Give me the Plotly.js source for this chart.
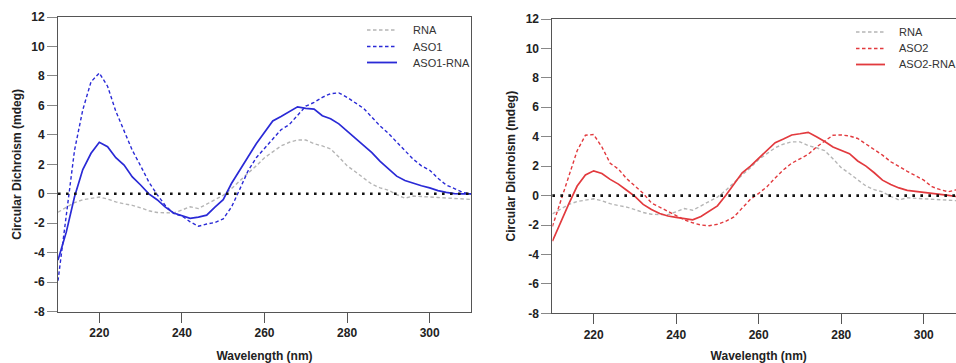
<!DOCTYPE html>
<html>
<head>
<meta charset="utf-8">
<script src="https://cdn.plot.ly/plotly-3.0.1.min.js"></script>
<style>
  html, body { margin: 0; padding: 0; background: #fff; overflow: hidden; }
  #cd { width: 966px; height: 363px; }
</style>
</head>
<body>
<div id="cd"></div>
<script>
// CD spectra, 210-310 nm, sampled every 2 nm
const wavelength = [210,212,214,216,218,220,222,224,226,228,230,232,234,236,238,240,242,244,246,248,
  250,252,254,256,258,260,262,264,266,268,270,272,274,276,278,280,282,284,286,288,
  290,292,294,296,298,300,302,304,306,308,310];

const rna = [-1.25,-0.95,-0.6,-0.4,-0.3,-0.22,-0.35,-0.55,-0.68,-0.78,-0.95,-1.15,-1.27,-1.3,-1.3,-1.1,-0.88,-1.0,-0.7,-0.45,
  -0.1,0.35,0.9,1.4,1.9,2.45,2.85,3.25,3.5,3.65,3.65,3.4,3.25,3.05,2.5,1.9,1.5,1.05,0.65,0.4,
  0.25,-0.05,-0.3,-0.15,-0.2,-0.22,-0.25,-0.28,-0.3,-0.32,-0.38];

const aso1 = [-5.9,-1.45,2.95,5.7,7.6,8.2,7.3,5.6,4.25,2.95,1.9,0.8,-0.05,-0.8,-1.33,-1.5,-1.9,-2.2,-2.05,-1.95,
  -1.7,-0.9,0.3,1.55,2.45,3.1,3.7,4.35,4.7,5.3,5.95,6.2,6.55,6.8,6.85,6.55,6.2,5.8,5.2,4.6,
  4.1,3.5,2.9,2.35,1.9,1.6,1.05,0.6,0.35,0.1,0.0];

const aso1Rna = [-4.5,-2.6,-0.2,1.65,2.75,3.5,3.2,2.45,1.95,1.15,0.6,0.0,-0.4,-0.9,-1.3,-1.5,-1.67,-1.58,-1.45,-0.9,
  -0.4,0.7,1.65,2.5,3.4,4.15,4.95,5.25,5.6,5.9,5.8,5.75,5.3,5.1,4.75,4.25,3.8,3.3,2.8,2.2,
  1.7,1.2,0.9,0.7,0.55,0.4,0.22,0.1,0.02,0.0,0.0];

const aso2 = [-2.1,-0.35,1.45,3.05,4.1,4.15,3.3,2.2,1.8,1.15,0.65,0.15,-0.5,-0.8,-1.05,-1.35,-1.65,-1.85,-2.0,-2.05,
  -1.95,-1.75,-1.45,-0.85,-0.25,0.15,0.6,1.2,1.75,2.2,2.5,2.8,3.3,3.7,4.1,4.12,4.05,3.88,3.5,3.1,
  2.75,2.3,1.95,1.65,1.35,1.05,0.6,0.4,0.26,0.4,0.35];

const aso2Rna = [-3.1,-1.77,-0.55,0.65,1.4,1.68,1.5,1.1,0.78,0.36,-0.05,-0.6,-0.95,-1.22,-1.39,-1.48,-1.57,-1.65,-1.42,-1.07,
  -0.7,0.0,0.8,1.55,2.0,2.55,3.1,3.6,3.85,4.12,4.2,4.3,4.0,3.68,3.3,3.1,2.85,2.35,2.0,1.55,
  1.05,0.75,0.52,0.35,0.27,0.21,0.14,0.08,0.02,-0.07,-0.1];

const xTickVals = [220, 240, 260, 280, 300];
const xTickText = ['220', '240', '260', '280', '300'];
const yTickVals = [-8, -6, -4, -2, 0, 2, 4, 6, 8, 10, 12];
const yTickText = ['-8', '-6', '-4', '-2', '0', '2', '4', '6', '8', '10', '12'];

const W = 966, H = 363;
const FONT = 'Liberation Sans, Arial, Helvetica, sans-serif';
const GREY = '#b5b5b5', BLUE = '#2a2ad6', RED = '#e23a3e';
const DASH = '3.5px,2.5px';

// pixel -> paper helpers
const px = x => x / W;
const py = y => 1 - y / H;

// panel series: [name, values, colour, dashed]
const panelA = [
  ['RNA', rna, GREY, true],
  ['ASO1', aso1, BLUE, true],
  ['ASO1-RNA', aso1Rna, BLUE, false]
];
const panelB = [
  ['RNA', rna, GREY, true],
  ['ASO2', aso2, RED, true],
  ['ASO2-RNA', aso2Rna, RED, false]
];

const traces = [];
function addPanel(series, xa, ya) {
  series.forEach(([name, vals, col, dashed]) => {
    traces.push({
      type: 'scatter', mode: 'lines', name: name,
      x: wavelength, y: vals, xaxis: xa, yaxis: ya,
      showlegend: false, hoverinfo: 'skip',
      line: { color: col, width: dashed ? 1.4 : 1.7, dash: dashed ? DASH : 'solid' }
    });
  });
}
addPanel(panelA, 'x', 'y');
addPanel(panelB, 'x2', 'y2');

// hand-placed key for each panel
const shapes = [];
const annotations = [];
function addKey(series, lineX0, lineX1, textX, rowsY) {
  series.forEach(([name, , col, dashed], i) => {
    shapes.push({
      type: 'line', xref: 'paper', yref: 'paper',
      x0: px(lineX0), x1: px(lineX1), y0: py(rowsY[i]), y1: py(rowsY[i]),
      line: { color: col, width: dashed ? 1.4 : 1.8, dash: dashed ? DASH : 'solid' }
    });
    annotations.push({
      xref: 'paper', yref: 'paper', x: px(textX), y: py(rowsY[i]),
      xanchor: 'left', yanchor: 'middle', showarrow: false, text: name,
      font: { family: FONT, size: 11, color: '#333' }
    });
  });
}
addKey(panelA, 367, 397, 411, [30, 46.5, 62.5]);
addKey(panelB, 856, 885, 897, [32, 48.5, 64.5]);

// dotted zero reference in each panel
[['x domain', 'y'], ['x2 domain', 'y2']].forEach(([xr, yr]) => {
  shapes.push({
    type: 'line', xref: xr, yref: yr, x0: 0, x1: 1, y0: 0, y1: 0,
    line: { color: '#111', width: 2.6, dash: '2.6px,5.4px' }
  });
});

function xAxis(domain, anchor) {
  return {
    domain: domain, anchor: anchor, range: [210, 310],
    tickmode: 'array', tickvals: xTickVals, ticktext: xTickText,
    ticks: 'outside', ticklen: 10, tickwidth: 1, tickcolor: '#555',
    showline: true, mirror: true, linecolor: '#555', linewidth: 1,
    showgrid: false, zeroline: false, automargin: false,
    tickfont: { family: FONT, size: 12, color: '#222', weight: 'bold' },
    title: { text: 'Wavelength (nm)', standoff: 12,
             font: { family: FONT, size: 12, color: '#222', weight: 'bold' } }
  };
}
function yAxis(domain, anchor) {
  return {
    domain: domain, anchor: anchor, range: [-8, 12],
    tickmode: 'array', tickvals: yTickVals, ticktext: yTickText,
    ticks: 'outside', ticklen: 10, tickwidth: 1, tickcolor: '#888',
    showline: true, mirror: true, linecolor: '#555', linewidth: 1,
    showgrid: false, zeroline: false, automargin: false,
    tickfont: { family: FONT, size: 12, color: '#222', weight: 'bold' },
    title: { text: 'Circular Dichroism (mdeg)', standoff: 7,
             font: { family: FONT, size: 12, color: '#222', weight: 'bold' } }
  };
}

const layout = {
  width: W, height: H,
  margin: { l: 0, r: 0, t: 0, b: 0, pad: 0 },
  paper_bgcolor: '#fff', plot_bgcolor: '#fff',
  showlegend: false,
  xaxis: xAxis([px(58), px(471)], 'y'),
  yaxis: yAxis([py(311.7), py(17)], 'x'),
  xaxis2: xAxis([px(552.4), px(965)], 'y2'),
  yaxis2: yAxis([py(313.3), py(19)], 'x2'),
  shapes: shapes,
  annotations: annotations
};

Plotly.newPlot('cd', traces, layout, { displayModeBar: false, staticPlot: true });
</script>
</body>
</html>
